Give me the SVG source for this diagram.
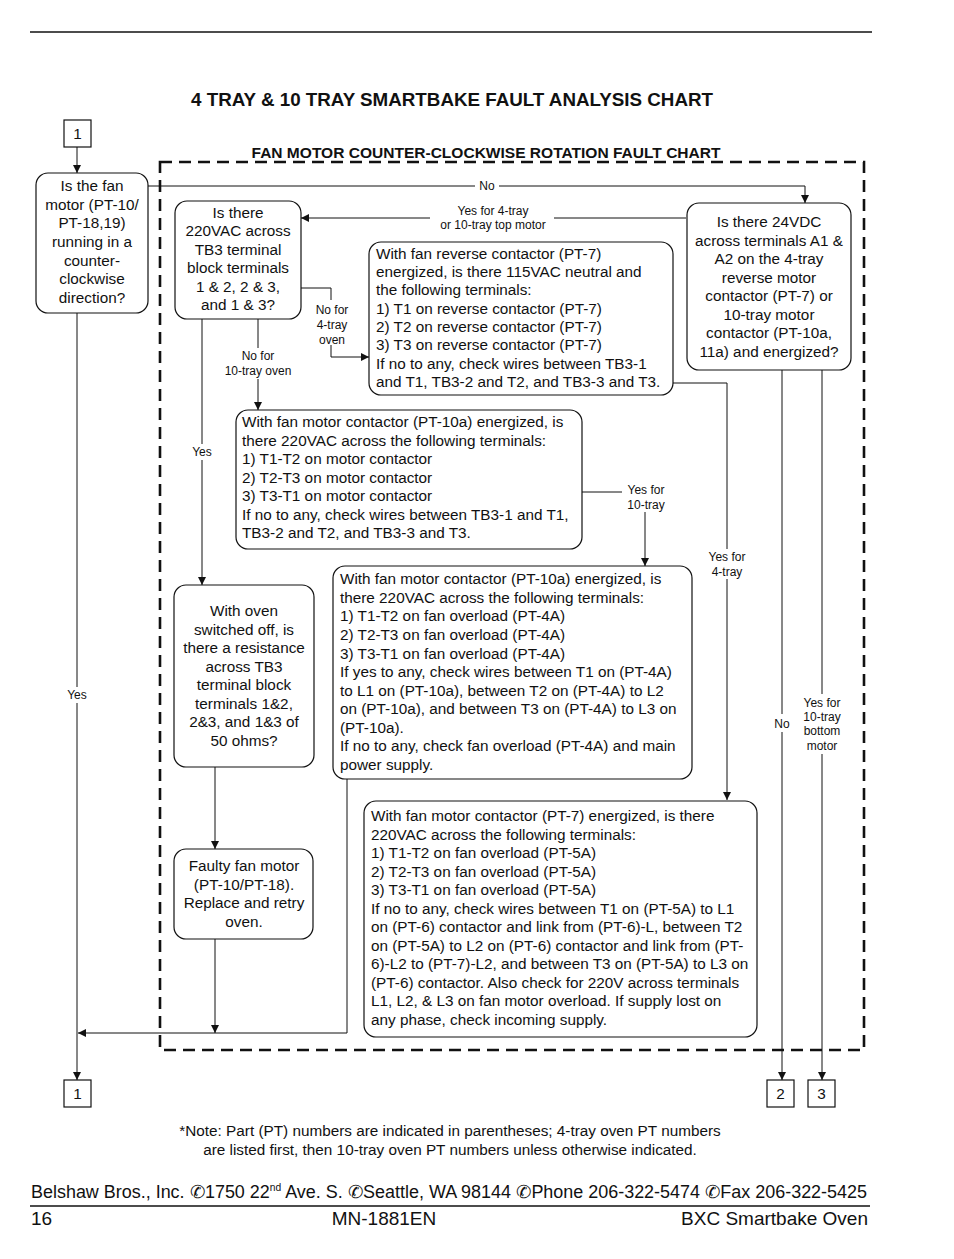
<svg xmlns="http://www.w3.org/2000/svg" width="954" height="1259" viewBox="0 0 954 1259">
<style>
text{font-family:"Liberation Sans",Arial,sans-serif;fill:#111}
.t{font-size:15.3px}
.c{text-anchor:middle}
.s{font-size:12px}
.b{fill:#fff;stroke:#111;stroke-width:1.2}
.ln{fill:none;stroke:#111;stroke-width:1}
.fr{fill:none;stroke:#111;stroke-width:2.6;stroke-dasharray:12 7}
</style>
<defs>
<marker id="ah" viewBox="0 0 10 10" refX="10" refY="5" markerWidth="8" markerHeight="8" markerUnits="userSpaceOnUse" orient="auto"><path d="M0,0 L10,5 L0,10 z" fill="#111"/></marker>
</defs>
<rect width="954" height="1259" fill="#fff"/>
<line x1="30" y1="32" x2="872" y2="32" stroke="#111" stroke-width="1.5"/>
<text x="452" y="106" class="c" style="font-size:17.5px;font-weight:bold" textLength="522" lengthAdjust="spacingAndGlyphs">4 TRAY &amp; 10 TRAY SMARTBAKE FAULT ANALYSIS CHART</text>
<text x="486" y="158" class="c" style="font-size:14.5px;font-weight:bold" textLength="469" lengthAdjust="spacingAndGlyphs">FAN MOTOR COUNTER-CLOCKWISE ROTATION FAULT CHART</text>
<rect x="160" y="162" width="704" height="888" class="fr"/>

<g id="connectors">
<path class="ln" d="M77,147 V173" marker-end="url(#ah)"/>
<path class="ln" d="M148,186 H805 V203" marker-end="url(#ah)"/>
<path class="ln" d="M686,218 H301" marker-end="url(#ah)"/>
<path class="ln" d="M301,288 H331 V300"/>
<path class="ln" d="M331,345 V357 H369" marker-end="url(#ah)"/>
<path class="ln" d="M258,319 V348"/>
<path class="ln" d="M258,379 V410" marker-end="url(#ah)"/>
<path class="ln" d="M202,319 V585" marker-end="url(#ah)"/>
<path class="ln" d="M582,492 H622"/>
<path class="ln" d="M645,512 V566" marker-end="url(#ah)"/>
<path class="ln" d="M673,383 H727 V800" marker-end="url(#ah)"/>
<path class="ln" d="M215,767 V849" marker-end="url(#ah)"/>
<path class="ln" d="M215,939 V1033" marker-end="url(#ah)"/>
<path class="ln" d="M347,779 V1033 H78" marker-end="url(#ah)"/>
<path class="ln" d="M77,313 V1080" marker-end="url(#ah)"/>
<path class="ln" d="M782,370 V1080" marker-end="url(#ah)"/>
<path class="ln" d="M822,370 V1080" marker-end="url(#ah)"/>
<rect x="475" y="179" width="24" height="14" fill="#fff"/>
<text x="487" y="190" class="s c">No</text>
<rect x="430" y="203" width="124" height="26" fill="#fff"/>
<text x="493" y="215" class="s c">Yes for 4-tray</text>
<text x="493" y="229" class="s c">or 10-tray top motor</text>
<text x="332" y="314" class="s c">No for</text>
<text x="332" y="329" class="s c">4-tray</text>
<text x="332" y="344" class="s c">oven</text>
<text x="258" y="360" class="s c">No for</text>
<text x="258" y="375" class="s c">10-tray oven</text>
<rect x="189" y="444" width="26" height="16" fill="#fff"/>
<text x="202" y="456" class="s c">Yes</text>
<text x="646" y="494" class="s c">Yes for</text>
<text x="646" y="509" class="s c">10-tray</text>
<rect x="705" y="549" width="44" height="30" fill="#fff"/>
<text x="727" y="561" class="s c">Yes for</text>
<text x="727" y="576" class="s c">4-tray</text>
<rect x="63" y="687" width="28" height="16" fill="#fff"/>
<text x="77" y="699" class="s c">Yes</text>
<rect x="770" y="714" width="24" height="18" fill="#fff"/>
<text x="782" y="728" class="s c">No</text>
<rect x="799" y="694" width="46" height="60" fill="#fff"/>
<text x="822" y="707" class="s c">Yes for</text>
<text x="822" y="721" class="s c">10-tray</text>
<text x="822" y="735" class="s c">bottom</text>
<text x="822" y="750" class="s c">motor</text>
</g>

<g id="start1">
<rect x="64" y="120" width="27" height="27" fill="#fff" stroke="#111" stroke-width="1.2"/>
<text x="77.5" y="139" class="t c">1</text>
</g>

<g id="q-running">
<rect x="36" y="173" width="112" height="140" rx="12" class="b"/>
<text class="t c"><tspan x="92" y="191">Is the fan</tspan><tspan x="92" y="210">motor (PT-10/</tspan><tspan x="92" y="228">PT-18,19)</tspan><tspan x="92" y="247">running in a</tspan><tspan x="92" y="266">counter-</tspan><tspan x="92" y="284">clockwise</tspan><tspan x="92" y="303">direction?</tspan></text>
</g>

<g id="q-220vac">
<rect x="175" y="201" width="126" height="118" rx="12" class="b"/>
<text class="t c"><tspan x="238" y="218">Is there</tspan><tspan x="238" y="236">220VAC across</tspan><tspan x="238" y="255">TB3 terminal</tspan><tspan x="238" y="273">block terminals</tspan><tspan x="238" y="292">1 &amp; 2, 2 &amp; 3,</tspan><tspan x="238" y="310">and 1 &amp; 3?</tspan></text>
</g>

<g id="q-24vdc">
<rect x="687" y="203" width="164" height="167" rx="12" class="b"/>
<text class="t c"><tspan x="769" y="227">Is there 24VDC</tspan><tspan x="769" y="246">across terminals A1 &amp;</tspan><tspan x="769" y="264">A2 on the 4-tray</tspan><tspan x="769" y="283">reverse motor</tspan><tspan x="769" y="301">contactor (PT-7) or</tspan><tspan x="769" y="320">10-tray motor</tspan><tspan x="769" y="338">contactor (PT-10a,</tspan><tspan x="769" y="357">11a) and energized?</tspan></text>
</g>

<g id="q-reverse">
<rect x="369" y="242" width="304" height="153" rx="12" class="b"/>
<text class="t"><tspan x="376" y="259">With fan reverse contactor (PT-7)</tspan><tspan x="376" y="277">energized, is there 115VAC neutral and</tspan><tspan x="376" y="295">the following terminals:</tspan><tspan x="376" y="314">1) T1 on reverse contactor (PT-7)</tspan><tspan x="376" y="332">2) T2 on reverse contactor (PT-7)</tspan><tspan x="376" y="350">3) T3 on reverse contactor (PT-7)</tspan><tspan x="376" y="369">If no to any, check wires between TB3-1</tspan><tspan x="376" y="387">and T1, TB3-2 and T2, and TB3-3 and T3.</tspan></text>
</g>

<g id="q-motor-contactor">
<rect x="236" y="410" width="346" height="139" rx="12" class="b"/>
<text class="t"><tspan x="242" y="427">With fan motor contactor (PT-10a) energized, is</tspan><tspan x="242" y="446">there 220VAC across the following terminals:</tspan><tspan x="242" y="464">1) T1-T2 on motor contactor</tspan><tspan x="242" y="483">2) T2-T3 on motor contactor</tspan><tspan x="242" y="501">3) T3-T1 on motor contactor</tspan><tspan x="242" y="520">If no to any, check wires between TB3-1 and T1,</tspan><tspan x="242" y="538">TB3-2 and T2, and TB3-3 and T3.</tspan></text>
</g>

<g id="q-overload-4a">
<rect x="333" y="566" width="359" height="213" rx="12" class="b"/>
<text class="t"><tspan x="340" y="584">With fan motor contactor (PT-10a) energized, is</tspan><tspan x="340" y="603">there 220VAC across the following terminals:</tspan><tspan x="340" y="621">1) T1-T2 on fan overload (PT-4A)</tspan><tspan x="340" y="640">2) T2-T3 on fan overload (PT-4A)</tspan><tspan x="340" y="659">3) T3-T1 on fan overload (PT-4A)</tspan><tspan x="340" y="677">If yes to any, check wires between T1 on (PT-4A)</tspan><tspan x="340" y="696">to L1 on (PT-10a), between T2 on (PT-4A) to L2</tspan><tspan x="340" y="714">on (PT-10a), and between T3 on (PT-4A) to L3 on</tspan><tspan x="340" y="733">(PT-10a).</tspan><tspan x="340" y="751">If no to any, check fan overload (PT-4A) and main</tspan><tspan x="340" y="770">power supply.</tspan></text>
</g>

<g id="q-resistance">
<rect x="174" y="585" width="140" height="182" rx="12" class="b"/>
<text class="t c"><tspan x="244" y="616">With oven</tspan><tspan x="244" y="635">switched off, is</tspan><tspan x="244" y="653">there a resistance</tspan><tspan x="244" y="672">across TB3</tspan><tspan x="244" y="690">terminal block</tspan><tspan x="244" y="709">terminals 1&amp;2,</tspan><tspan x="244" y="727">2&amp;3, and 1&amp;3 of</tspan><tspan x="244" y="746">50 ohms?</tspan></text>
</g>

<g id="faulty-motor">
<rect x="174" y="849" width="139" height="90" rx="12" class="b"/>
<text class="t c"><tspan x="244" y="871">Faulty fan motor</tspan><tspan x="244" y="890">(PT-10/PT-18).</tspan><tspan x="244" y="908">Replace and retry</tspan><tspan x="244" y="927">oven.</tspan></text>
</g>

<g id="q-overload-5a">
<rect x="364" y="801" width="393" height="236" rx="12" class="b"/>
<text class="t"><tspan x="371" y="821">With fan motor contactor (PT-7) energized, is there</tspan><tspan x="371" y="840">220VAC across the following terminals:</tspan><tspan x="371" y="858">1) T1-T2 on fan overload (PT-5A)</tspan><tspan x="371" y="877">2) T2-T3 on fan overload (PT-5A)</tspan><tspan x="371" y="895">3) T3-T1 on fan overload (PT-5A)</tspan><tspan x="371" y="914">If no to any, check wires between T1 on (PT-5A) to L1</tspan><tspan x="371" y="932">on (PT-6) contactor and link from (PT-6)-L, between T2</tspan><tspan x="371" y="951">on (PT-5A) to L2 on (PT-6) contactor and link from (PT-</tspan><tspan x="371" y="969">6)-L2 to (PT-7)-L2, and between T3 on (PT-5A) to L3 on</tspan><tspan x="371" y="988">(PT-6) contactor.  Also check for 220V across terminals</tspan><tspan x="371" y="1006">L1, L2, &amp; L3 on fan motor overload.  If supply lost on</tspan><tspan x="371" y="1025">any phase, check incoming supply.</tspan></text>
</g>

<g id="end1">
<rect x="64" y="1080" width="27" height="27" fill="#fff" stroke="#111" stroke-width="1.2"/>
<text x="77.5" y="1099" class="t c">1</text>
</g>
<g id="end2">
<rect x="767" y="1080" width="27" height="27" fill="#fff" stroke="#111" stroke-width="1.2"/>
<text x="780.5" y="1099" class="t c">2</text>
</g>
<g id="end3">
<rect x="808" y="1080" width="27" height="27" fill="#fff" stroke="#111" stroke-width="1.2"/>
<text x="821.5" y="1099" class="t c">3</text>
</g>

<text class="t c"><tspan x="450" y="1136">*Note: Part (PT) numbers are indicated in parentheses; 4-tray oven PT numbers</tspan><tspan x="450" y="1155">are listed first, then 10-tray oven PT numbers unless otherwise indicated.</tspan></text>

<text x="31" y="1198" style="font-size:17.5px" textLength="836" lengthAdjust="spacingAndGlyphs">Belshaw Bros., Inc. ✆1750 22<tspan dy="-7" style="font-size:10px">nd</tspan><tspan dy="7"> Ave. S. ✆Seattle, WA 98144 ✆Phone 206-322-5474 ✆Fax 206-322-5425</tspan></text>
<line x1="30" y1="1206" x2="870" y2="1206" stroke="#111" stroke-width="1.5"/>
<text x="31" y="1225" style="font-size:19px">16</text>
<text x="384" y="1225" class="c" style="font-size:19px">MN-1881EN</text>
<text x="868" y="1225" style="font-size:19px;text-anchor:end">BXC Smartbake Oven</text>
</svg>
